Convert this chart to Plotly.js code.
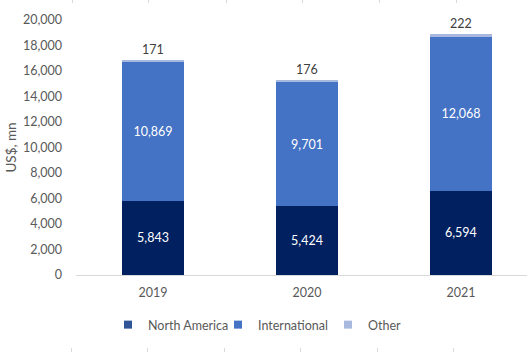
<!DOCTYPE html>
<html>
<head>
<meta charset="utf-8">
<script src="https://cdn.plot.ly/plotly-3.0.1.min.js"></script>
<style>html,body{margin:0;padding:0;background:#fff;}#chart{width:527px;height:352px;}</style>
</head>
<body>
<div id="chart"></div>
<script>
var years = ["2019", "2020", "2021"];
var northAmerica = [5843, 5424, 6594];
var international = [10869, 9701, 12068];
var other = [171, 176, 222];
var seriesNames = ["North America", "International", "Other"];
var barColors = ["#002060", "#4472C4", "#A9B8DE"];
var legendColors = ["#2F5597", "#4472C4", "#A9B8DE"];
var yTicks = [0, 2000, 4000, 6000, 8000, 10000, 12000, 14000, 16000, 18000, 20000];

var FONT = "Lato, 'Open Sans', sans-serif";
function fmt(v) { return v.toLocaleString("en-US"); }

var traces = [
  {type: "bar", x: years, y: northAmerica, name: seriesNames[0], showlegend: false,
   marker: {color: barColors[0]}, text: northAmerica.map(fmt), textposition: "inside",
   insidetextanchor: "middle", textangle: 0, textfont: {color: "#FFFFFF", size: 12.5, family: FONT},
   hoverinfo: "skip"},
  {type: "bar", x: years, y: international, name: seriesNames[1], showlegend: false,
   marker: {color: barColors[1]}, text: international.map(fmt), textposition: "inside",
   insidetextanchor: "middle", textangle: 0, textfont: {color: "#FFFFFF", size: 12.5, family: FONT},
   hoverinfo: "skip"},
  {type: "bar", x: years, y: other, name: seriesNames[2], showlegend: false,
   marker: {color: barColors[2]}, text: other.map(fmt), textposition: "outside",
   textangle: 0, textfont: {color: "#404040", size: 12.5, family: FONT}, cliponaxis: false,
   hoverinfo: "skip"}
];
for (var i = 0; i < 3; i++) {
  traces.push({type: "scatter", mode: "markers", x: [null], y: [null], name: seriesNames[i],
    marker: {symbol: "square", size: 8, color: legendColors[i]}, showlegend: true, hoverinfo: "skip"});
}

var shapes = [];
var bottomMarks = [71, 147, 224, 300, 377, 453];
var topMarks = [72, 148, 226, 302, 379, 456];
function px2x(p) { return (p - 76) / 451; }
function py2y(p) { return (275 - p) / 255; }
bottomMarks.forEach(function (p) {
  shapes.push({type: "line", xref: "paper", yref: "paper", x0: px2x(p + 0.5), x1: px2x(p + 0.5),
    y0: py2y(348), y1: py2y(353), line: {color: "#D9D9D9", width: 1}});
});
topMarks.forEach(function (p) {
  shapes.push({type: "line", xref: "paper", yref: "paper", x0: px2x(p + 0.5), x1: px2x(p + 0.5),
    y0: py2y(-1), y1: py2y(3), line: {color: "#D9D9D9", width: 1}});
});

var layout = {
  width: 527, height: 352,
  margin: {l: 76, r: 0, t: 20, b: 77},
  paper_bgcolor: "#FFFFFF", plot_bgcolor: "#FFFFFF",
  barmode: "stack", bargap: 0.6,
  font: {family: FONT, size: 12, color: "#595959"},
  xaxis: {type: "category", range: [-0.5, 2.429], showgrid: false, zeroline: false,
    showline: true, linecolor: "#D9D9D9", linewidth: 1, ticks: "", fixedrange: true,
    ticklabelstandoff: 6,
    tickfont: {size: 12.5, color: "#595959", family: FONT}, automargin: false},
  yaxis: {range: [0, 20000], tickvals: yTicks, ticktext: yTicks.map(fmt), showgrid: false,
    zeroline: false, showline: false, ticks: "", ticklabelstandoff: 13,
    tickfont: {size: 12.5, color: "#595959", family: FONT}, automargin: false,
    title: {text: "US$, mn", font: {size: 13.5, color: "#595959", family: FONT}, standoff: 3}},
  legend: {orientation: "h", x: px2x(108), xanchor: "left", y: py2y(325), yanchor: "middle",
    font: {size: 12.5, color: "#595959", family: FONT}, itemwidth: 30, traceorder: "normal",
    entrywidthmode: "pixels", entrywidth: 65,
    bgcolor: "rgba(0,0,0,0)"},
  shapes: shapes,
  showlegend: true
};

Plotly.newPlot("chart", traces, layout, {displayModeBar: false, staticPlot: true});
</script>
</body>
</html>
